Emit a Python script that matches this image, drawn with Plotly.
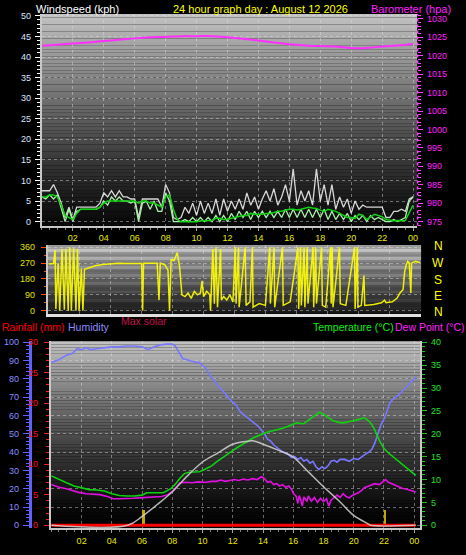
import plotly.graph_objects as go

W, H = 466, 555

# ---------------- data ----------------
wind_hours = [i * 0.25 for i in range(97)]
gust_kph = [7.5, 7.5, 7.5, 9, 7, 4.5, 1, 3.5, 0.5, 3.5, 3.5, 3.5, 3.5, 3.5, 3.5, 4.5,
            7, 6, 7.5, 6, 7.5, 6, 6, 5.5, 5.5, 1, 5.5, 5.5, 5.5, 5.5, 5.5, 3.5,
            9, 7, 1, 0.5, 1, 3.5, 2, 4.5, 1.5, 5, 2, 4.5, 2, 5.5, 1.5, 5.5,
            2.5, 5, 3, 5.5, 3, 7, 4, 6, 3, 5.5, 7.5, 5, 8, 4, 6, 9,
            5, 12.8, 4, 7.5, 5, 7.5, 4, 12.8, 5, 9, 4, 9, 3, 6, 3.5, 5.5,
            2, 5, 3, 4, 3.5, 3.5, 3.5, 3.5, 3.5, 1, 1, 2.5, 2.5, 3, 2.5, 5.5, 6]
speed_kph = [6, 5.5, 6.5, 5.5, 6.5, 3, 0, 3, 0, 2.5, 3, 3, 3, 3, 3, 3.5,
             5, 4, 6, 5, 6, 5, 5, 4.5, 5, 0, 4.5, 5, 3, 5, 2.5, 2.5,
             7, 5, 0, 0, 0, 0.5, 0, 1, 0, 1, 0, 1, 0, 1.5, 0, 1.5,
             0, 2, 0.5, 2.5, 1, 2.5, 0.5, 2.5, 1, 2.5, 1, 2.5, 1, 2.5, 1, 3,
             1, 3, 1, 3, 1, 3, 1, 3, 1, 3, 0.5, 2.5, 0.5, 2, 0.5, 2,
             0, 1.5, 0.5, 1.5, 0, 1.5, 0.5, 1, 0.5, 0, 0, 0.5, 0, 0.5, 1, 5, 6]
avg_kph = [6, 6, 6.5, 6.5, 6, 4, 1.5, 1, 0.5, 2, 3, 3, 3, 3, 3, 3.5,
           4.5, 5, 5, 5, 5, 5, 5, 5, 5, 4.5, 5, 5, 4.5, 4.5, 4, 3.5,
           6, 6.5, 3, 0.5, 0, 0, 0, 0, 0, 0.2, 0.2, 0.3, 0.3, 0.8, 0.8, 0.5,
           0.5, 0.8, 1, 1.2, 1.5, 1.5, 2, 1.8, 1.8, 1.8, 2, 2, 2.2, 2.5, 2.5, 2.8,
           3, 3, 2.8, 3, 3.2, 3.5, 3.3, 3.2, 2.8, 2.5, 3, 2.8, 2.5, 2, 1.5, 1,
           1, 0.8, 1.8, 1.5, 0.5, 1.2, 1.8, 1.5, 1.2, 0.5, 0.3, 0.2, 0.3, 0.2, 0.3, 2, 4]

baro_hours = list(range(25))
baro_hpa = [1022.7, 1023.0, 1023.3, 1023.6, 1024.0, 1024.3, 1024.7, 1025.0, 1025.1,
            1025.3, 1025.3, 1025.3, 1025.0, 1024.6, 1024.1, 1023.6, 1023.1, 1022.8,
            1022.6, 1022.5, 1022.1, 1022.1, 1022.5, 1022.8, 1023.2]

dir_hours = [0.0, 0.3, 0.4, 0.45, 0.6, 0.7, 0.85, 1.0, 1.1, 1.25, 1.35, 1.45, 1.6, 1.75,
             1.85, 1.95, 2.1, 2.2, 2.3, 2.6, 3.0, 3.5, 4.0, 4.5, 5.0, 5.5, 6.0, 6.06,
             6.12, 6.5, 7.0, 7.12, 7.2, 7.5, 7.7, 7.8, 7.9, 8.1, 8.3, 8.45, 8.6, 8.8,
             9.0, 9.2, 9.4, 9.6, 9.8, 9.9, 10.0, 10.2, 10.4, 10.45, 10.6, 10.7, 10.8,
             10.9, 11.1, 11.15, 11.3, 11.5, 11.7, 11.9, 12.05, 12.1, 12.26, 12.3, 12.69,
             12.75, 13.0, 13.16, 13.2, 13.6, 14.0, 14.28, 14.32, 14.56, 14.6, 15.1,
             15.15, 15.6, 16.1, 16.15, 16.27, 16.32, 16.5, 16.55, 16.7, 16.75, 17.08,
             17.12, 17.25, 17.3, 17.63, 17.68, 17.9, 18.21, 18.25, 18.32, 18.37, 18.79,
             18.84, 19.2, 19.76, 19.8, 19.94, 19.98, 20.2, 20.37, 20.42, 21.0, 21.5,
             21.7, 21.8, 22.2, 22.5, 22.7, 22.9, 23.0, 23.1, 23.2, 23.3, 23.4, 23.45,
             23.7, 24.0]
dir_deg = [265, 268, 345, 10, 270, 0, 350, 5, 350, 0, 360, 0, 355, 0,
           350, 0, 240, 0, 235, 245, 255, 262, 265, 270, 268, 270, 268, 0,
           270, 270, 270, 60, 270, 260, 230, 0, 290, 285, 330, 250, 90, 80,
           100, 70, 110, 90, 100, 170, 80, 110, 90, 0, 350, 40, 360,
           20, 350, 60, 80, 60, 90, 50, 360, 40, 360, 20, 360,
           30, 50, 360, 20, 40, 30, 360, 40, 360, 20, 360,
           30, 50, 360, 10, 360, 30, 360, 20, 360, 40, 360,
           20, 360, 40, 360, 30, 20, 360, 40, 360, 20, 360,
           40, 30, 360, 10, 360, 20, 30, 200, 30, 35, 45,
           60, 45, 50, 70, 100, 120, 220, 260, 280, 270, 100, 270,
           280, 272]

hum_hours = [0.0, 0.5, 1.0, 1.4, 1.7, 2.0, 2.3, 2.6, 3.0, 3.5, 4.0, 4.5, 5.0, 5.5, 6.0,
             6.4, 6.8, 7.2, 7.6, 8.0, 8.2, 8.4, 8.7, 9.0, 9.3, 9.8, 10.2, 10.5, 10.7,
             11.0, 11.3, 11.6, 11.9, 12.2, 12.5, 12.8, 13.0, 13.3, 13.5, 13.7, 13.9,
             14.1, 14.3, 14.5, 14.7, 14.9, 15.1, 15.3, 15.5, 15.7, 15.9, 16.1, 16.3,
             16.5, 16.7, 16.9, 17.1, 17.3, 17.5, 17.7, 17.9, 18.1, 18.3, 18.5, 18.7,
             18.9, 19.1, 19.4, 19.7, 20.0, 20.3, 20.6, 20.8, 21.0, 21.2, 21.4, 21.6,
             21.8, 22.0, 22.2, 22.4, 22.6, 22.8, 23.0, 23.2, 23.4, 23.6, 23.8, 24.0, 24.1]
hum_pct = [89, 90.5, 93, 94, 96.5, 96, 97, 96, 96.5, 97, 97.5, 97.5, 98, 98, 97.5,
           96, 97.5, 98.5, 99, 99, 98, 95, 91, 90.5, 89.5, 88.8, 86, 82, 79.5,
           76.5, 74, 71, 68, 66, 62, 60, 59, 57, 55.5, 54, 52,
           50, 47, 46, 44, 42.5, 41, 40, 39.5, 38.5, 37, 37.5, 36,
           37, 35, 36, 34, 35, 32, 30.5, 32, 31, 32.5, 35, 35.5,
           34.5, 36, 36, 35, 36.5, 36, 38, 39, 40, 41.5, 45, 50,
           55, 58, 62, 67, 69, 70, 71.5, 73, 75, 76.5, 78.5, 80, 81]

temp_hours = [0.0, 0.5, 1.0, 1.5, 2.0, 2.5, 3.0, 3.5, 4.0, 4.5, 5.0, 5.5, 6.0, 6.3, 6.8,
              7.4, 7.9, 8.2, 8.5, 8.8, 9.1, 9.5, 9.8, 10.2, 10.6, 10.9, 11.3, 11.8,
              12.3, 12.9, 13.4, 14.2, 14.8, 15.3, 15.8, 16.2, 16.7, 17.0, 17.3, 17.7,
              18.0, 18.3, 18.6, 19.0, 19.3, 19.6, 19.9, 20.3, 20.7, 21.0, 21.2, 21.4,
              21.7, 22.0, 22.3, 22.6, 23.0, 23.4, 23.7, 24.0, 24.1]
temp_c = [10.8, 10.0, 9.3, 8.6, 8.2, 7.8, 7.7, 7.5, 6.9, 6.5, 6.4, 6.4, 6.6, 7.1, 7.1,
          7.1, 8.0, 9.0, 10.3, 11.3, 11.6, 11.6, 11.7, 12.3, 13.0, 13.8, 14.8, 15.9,
          17.0, 18.2, 19.2, 20.3, 20.8, 21.2, 21.8, 22.4, 22.2, 23.0, 23.8, 24.7,
          24.3, 23.5, 22.9, 22.5, 22.4, 22.6, 22.8, 23.1, 23.5, 22.8, 22.0, 20.8,
          18.5, 16.8, 15.8, 15.0, 14.0, 13.0, 12.0, 11.2, 10.9]

dew_hours = [0.0, 0.5, 1.0, 1.4, 1.8, 2.3, 2.8, 3.2, 3.7, 4.1, 4.5, 5.0, 5.4, 5.8, 6.3,
             6.8, 7.3, 7.7, 8.0, 8.3, 8.5, 8.9, 9.3, 9.7, 10.2, 10.6, 10.9, 11.2, 11.5,
             11.8, 12.1, 12.4, 12.7, 13.0, 13.3, 13.6, 13.9, 14.1, 14.3, 14.5, 14.7,
             14.9, 15.1, 15.3, 15.5, 15.7, 15.9, 16.0, 16.2, 16.3, 16.4, 16.5, 16.6,
             16.7, 16.9, 17.0, 17.2, 17.4, 17.6, 17.8, 18.0, 18.2, 18.35, 18.5, 18.7,
             18.9, 19.1, 19.3, 19.5, 19.7, 19.9, 20.1, 20.3, 20.5, 20.7, 20.9, 21.1,
             21.4, 21.7, 22.0, 22.1, 22.3, 22.6, 22.9, 23.2, 23.5, 23.8, 24.1]
dew_c = [8.9, 8.3, 8.0, 7.6, 7.2, 6.9, 6.8, 6.7, 6.3, 5.8, 5.8, 5.8, 5.9, 6.0, 6.1,
         6.2, 6.3, 6.7, 7.4, 8.5, 9.3, 9.4, 9.3, 9.5, 9.4, 9.6, 9.6, 9.9, 9.6,
         9.8, 10.0, 9.8, 10.1, 9.9, 10.2, 10.0, 10.6, 10.2, 9.4, 9.6, 8.9,
         9.1, 8.6, 8.9, 8.3, 8.6, 7.8, 7.0, 6.3, 4.8, 6.5, 5.5, 4.2,
         6.2, 5.2, 6.4, 5.3, 6.1, 5.0, 5.9, 5.2, 5.8, 4.2, 5.5, 6.0,
         6.6, 6.1, 6.9, 6.3, 6.0, 6.5, 6.8, 7.1, 7.6, 8.2, 8.5, 8.8,
         9.1, 8.9, 9.6, 10.0, 9.4, 9.0, 8.5, 8.1, 7.9, 7.6, 7.3]

solar_hours = [0.0, 5.05, 6, 7, 8, 9, 10, 11, 12, 13, 13.3, 14, 15, 16, 17, 18, 19,
               20, 21, 21.1, 24.1]
solar_wm2 = [0, 0, 90, 210, 340, 500, 640, 730, 820, 850, 855, 820, 760, 690, 540,
             390, 250, 100, 10, 0, 0]

rain_hours = [0.0, 24.1]
rain_mm = [0, 0]

event_hours = [6.1, 22.1]
event_mm = [2.4, 2.4]

hour_ticks = [2, 4, 6, 8, 10, 12, 14, 16, 18, 20, 22, 24]
hour_labels = ["02", "04", "06", "08", "10", "12", "14", "16", "18", "20", "22", "00"]

# ---------------- layout helpers ----------------
def fx(p):
    return p / W


def fy(p):
    return 1 - p / H


FONT = "Liberation Sans Narrow, Arial Narrow, Liberation Sans, Arial, sans-serif"
TFONT = "Liberation Sans, Arial, sans-serif"

# panel pixel boxes (left, right, top, bottom)
P1 = (42, 418, 10, 224)
P2 = (48, 422, 244, 313)
P3 = (51, 421, 341, 530)

fig = go.Figure()

# ---- panel 1: wind + barometer ----
fig.add_trace(go.Scatter(x=wind_hours, y=gust_kph, mode="lines", name="Gust",
                         line=dict(color="rgba(235,235,235,0.9)", width=1.3),
                         xaxis="x", yaxis="y"))
fig.add_trace(go.Scatter(x=wind_hours, y=speed_kph, mode="lines", name="Speed",
                         line=dict(color="#a8f0a8", width=1.3),
                         xaxis="x", yaxis="y"))
fig.add_trace(go.Scatter(x=wind_hours, y=avg_kph, mode="lines", name="Average",
                         line=dict(color="#10d010", width=1.5),
                         xaxis="x", yaxis="y"))
fig.add_trace(go.Scatter(x=baro_hours, y=baro_hpa, mode="lines", name="Barometer",
                         line=dict(color="#ff30ff", width=2, shape="spline"),
                         xaxis="x", yaxis="y2"))

# ---- panel 2: wind direction ----
fig.add_trace(go.Scatter(x=dir_hours, y=dir_deg, mode="lines", name="Direction",
                         line=dict(color="rgba(255,255,0,0.9)", width=1.5),
                         xaxis="x2", yaxis="y3"))

# ---- panel 3 ----
fig.add_trace(go.Scatter(x=rain_hours, y=rain_mm, mode="lines", name="Rainfall",
                         line=dict(color="#ff0000", width=3),
                         xaxis="x3", yaxis="y4"))
fig.add_trace(go.Bar(x=event_hours, y=event_mm, name="events", width=0.12,
                     marker=dict(color="#c0a800", line=dict(width=0)),
                     xaxis="x3", yaxis="y4"))
fig.add_trace(go.Scatter(x=hum_hours, y=hum_pct, mode="lines", name="Humidity",
                         line=dict(color="#7878ff", width=1.6),
                         xaxis="x3", yaxis="y5"))
fig.add_trace(go.Scatter(x=temp_hours, y=temp_c, mode="lines", name="Temperature",
                         line=dict(color="#10d010", width=1.6),
                         xaxis="x3", yaxis="y6"))
fig.add_trace(go.Scatter(x=dew_hours, y=dew_c, mode="lines", name="Dew Point",
                         line=dict(color="#e010e0", width=1.6),
                         xaxis="x3", yaxis="y6"))
fig.add_trace(go.Scatter(x=solar_hours, y=solar_wm2, mode="lines", name="Max solar",
                         line=dict(color="rgba(210,210,210,0.85)", width=1.5, shape="spline"),
                         xaxis="x3", yaxis="y7"))

# ---- background gradients ----
shapes = []


def gradient(box, top, bottom, gamma, n=60):
    l, r, t, b = box
    h = (b - t) / n
    for i in range(n):
        s = (i + 0.5) / n
        c = int(round(bottom + (top - bottom) * (1 - s) ** gamma))
        shapes.append(dict(type="rect", xref="paper", yref="paper", layer="below",
                           x0=fx(l), x1=fx(r), y0=fy(t + (i + 1) * h), y1=fy(t + i * h),
                           line=dict(width=0), fillcolor=f"rgb({c},{c},{c})"))


gradient(P1, 195, 8, 1.15)
gradient(P2, 205, 25, 1.0)
gradient(P3, 195, 0, 1.35)

# dotted magenta barometer axis line
shapes.append(dict(type="line", xref="paper", yref="paper", layer="above",
                   x0=fx(418.5), x1=fx(418.5), y0=fy(224), y1=fy(10),
                   line=dict(color="#ff40ff", width=1.5, dash="dot")))

grid = dict(showgrid=True, gridcolor="rgba(225,225,225,0.45)", griddash="dot", gridwidth=1)
xtick = dict(tickvals=hour_ticks, ticktext=hour_labels, ticks="outside", ticklen=3,
             tickcolor="#a0a0a0", tickfont=dict(color="#e8e800", size=9, family=FONT),
             showline=True, linecolor="#c8c8c8", linewidth=2, zeroline=False,
             minor=dict(ticks="outside", ticklen=2, dtick=0.5, tick0=0, tickcolor="#808080"))

fig.update_layout(
    width=W, height=H, margin=dict(l=0, r=0, t=0, b=0),
    paper_bgcolor="black", plot_bgcolor="rgba(0,0,0,0)",
    showlegend=False, shapes=shapes, bargap=0,
    xaxis=dict(domain=[fx(P1[0]), fx(P1[1])], range=[0, 24.26], anchor="y", **grid, **xtick),
    yaxis=dict(domain=[fy(P1[3]), fy(P1[2])], range=[-0.96, 50.48], anchor="x",
               dtick=5, tick0=0, ticks="outside", ticklen=5, tickcolor="white",
               tickfont=dict(color="#d8e4ff", size=9, family=FONT), ticklabelstandoff=2,
               showline=True, linecolor="#c8c8c8", linewidth=2, zeroline=False,
               minor=dict(ticks="outside", ticklen=3, dtick=1, tickcolor="white"), **grid),
    yaxis2=dict(overlaying="y", side="right", anchor="x", range=[973.93, 1031.34],
                dtick=5, tick0=975, ticks="outside", ticklen=5, tickcolor="#ff40ff",
                tickfont=dict(color="#ff20ff", size=9, family=FONT), ticklabelstandoff=2,
                showline=False, showgrid=False, zeroline=False,
                minor=dict(ticks="outside", ticklen=3, dtick=1, tickcolor="#ff40ff")),
    xaxis2=dict(domain=[fx(P2[0]), fx(P2[1])], range=[-0.0645, 24.0645], anchor="y3",
                tickvals=hour_ticks, showticklabels=False, ticks="", showline=True,
                linecolor="#e0e0e0", linewidth=3, zeroline=False, **grid),
    yaxis3=dict(domain=[fy(P2[3]), fy(P2[2])], range=[-16.9, 371.25], anchor="x2",
                tickvals=[0, 90, 180, 270, 360], ticks="outside", ticklen=5,
                tickcolor="#ff5000", tickfont=dict(color="#e0e000", size=9, family=FONT),
                ticklabelstandoff=4, showline=True, linecolor="#c8c8c8", linewidth=2,
                zeroline=False,
                minor=dict(ticks="outside", ticklen=2, dtick=45, tickcolor="#ff5000"), **grid),
    xaxis3=dict(domain=[fx(P3[0]), fx(P3[1])], range=[-0.033, 24.39], anchor="y4", **grid, **xtick),
    yaxis4=dict(domain=[fy(P3[3]), fy(P3[2])], range=[-0.486, 30.16], anchor="x3",
                dtick=5, tick0=0, ticks="outside", ticklen=5, tickcolor="#ff2020",
                tickfont=dict(color="#ff1010", size=9, family=FONT), ticklabelstandoff=4,
                showline=True, linecolor="#c8c8c8", linewidth=2, showgrid=False, zeroline=False,
                minor=dict(ticks="outside", ticklen=3, dtick=1, tickcolor="#ff2020")),
    yaxis5=dict(overlaying="y4", anchor="free", position=fx(30), side="left",
                range=[-1.62, 100.54], dtick=10, tick0=0, ticks="outside", ticklen=6,
                tickcolor="#6060ff", tickfont=dict(color="#8c8cff", size=9, family=FONT),
                ticklabelstandoff=2, showline=True, linecolor="#6060ff", linewidth=3,
                zeroline=False,
                minor=dict(ticks="outside", ticklen=3, dtick=2, tickcolor="#6060ff"), **grid),
    yaxis6=dict(overlaying="y4", side="right", anchor="x3", range=[-0.65, 40.22],
                dtick=5, tick0=0, ticks="outside", ticklen=5, tickcolor="#20c020",
                tickfont=dict(color="#20e020", size=9, family=FONT), ticklabelstandoff=2,
                showline=True, linecolor="#c8c8c8", linewidth=2, showgrid=False, zeroline=False,
                minor=dict(ticks="outside", ticklen=3, dtick=1, tickcolor="#20c020")),
    yaxis7=dict(overlaying="y4", anchor="x3", range=[-30, 1860], visible=False,
                showgrid=False, zeroline=False),
)

# ---- text labels ----
def label(text, x, y, color, size=11, anchor="left"):
    fig.add_annotation(text=text, x=fx(x), y=fy(y), xref="paper", yref="paper",
                       xanchor=anchor, yanchor="middle", showarrow=False,
                       font=dict(color=color, size=size, family=TFONT))


label("Windspeed (kph)", 34, 5, "#ffffff")
label("24 hour graph day : August 12 2026", 171, 5, "#ffff00")
label("Barometer (hpa)", 370, 5, "#ff20ff")
label("Rainfall (mm)", 0, 327, "#ff0000", 10.5)
label("Humidity", 66, 327, "#8c8cff", 10.5)
label("Max solar", 119, 320, "#c0104a", 10.5)
label("Temperature (°C)", 312, 327, "#10ee10", 10.5)
label("Dew Point (°C)", 394, 327, "#ff20ff", 10.5)

for letter, yy in zip(["N", "W", "S", "E", "N"], [245, 262, 279, 295, 311]):
    label(letter, 439, yy, "#ffff00", 12, "center")

fig.write_html(
    "out.html",
    config={"displayModeBar": False},
    post_script="document.body.style.margin='0';document.body.style.overflow='hidden';"
                "document.body.style.background='black';",
)
